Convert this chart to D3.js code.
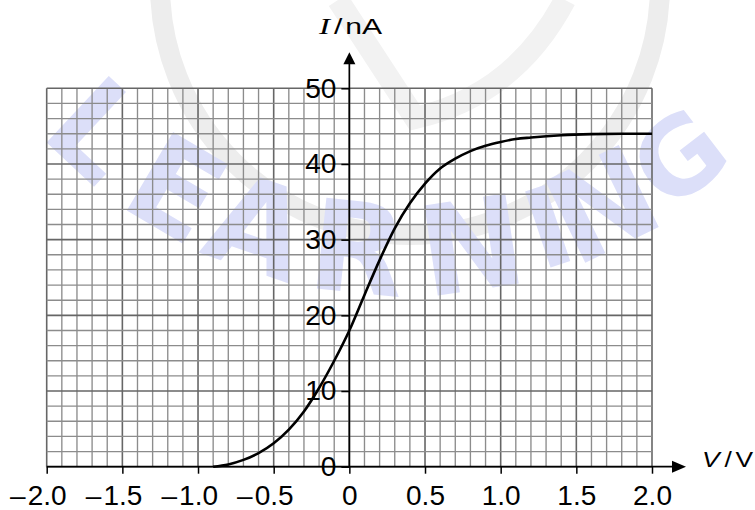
<!DOCTYPE html>
<html>
<head>
<meta charset="utf-8">
<script src="https://cdn.jsdelivr.net/npm/d3@7"></script>
<style>
  html, body { margin: 0; padding: 0; background: #fff; }
  svg { display: block; }
</style>
</head>
<body>
<svg id="chart" width="755" height="510"></svg>
<script>
// photocurrent I (nA) against applied voltage V (V)
const voltage = [-0.9, -0.8, -0.7, -0.6, -0.5, -0.4, -0.3, -0.2, -0.1, 0, 0.1, 0.2, 0.3, 0.4,
  0.5, 0.6, 0.7, 0.8, 0.9, 1.0, 1.1, 1.2, 1.4, 1.6, 1.8, 2.0];
const current = [0, 0.3, 0.9, 1.8, 3.1, 4.9, 7.3, 10.4, 14.0, 18.0, 22.7, 27.3, 31.5, 34.8,
  37.4, 39.4, 40.7, 41.7, 42.4, 42.9, 43.3, 43.5, 43.8, 43.95, 44.0, 44.0];

const xTicks = [-2.0, -1.5, -1.0, -0.5, 0, 0.5, 1.0, 1.5, 2.0];
const yTicks = [0, 10, 20, 30, 40, 50];
const xGrid = d3.range(-20, 21).map(i => i / 10);
const yGrid = d3.range(0, 51, 2);

// watermark letters and their angle (degrees) along the arc
const wmLetters = ["L", "E", "A", "R", "N", "I", "N", "G"];
const wmAngles = [-43, -30.5, -19, -6, 8.5, 18.5, 26, 37.5];

const sans = "Liberation Sans, Arial, Helvetica, sans-serif";
const svg = d3.select("#chart");

// scales
const x = d3.scaleLinear().domain([-2, 2]).range([46.7, 652]);
const y = d3.scaleLinear().domain([0, 50]).range([466.7, 88.3]);

// faint watermark behind the grid
const wm = svg.append("g").attr("class", "watermark");
wm.append("circle")
  .attr("cx", 410).attr("cy", -15).attr("r", 250)
  .attr("fill", "none").attr("stroke", "#ededed").attr("stroke-width", 20);
wm.append("path")
  .attr("d", "M338,0 L415,118 Q515,95 565,0")
  .attr("fill", "none").attr("stroke", "#f2f2f2").attr("stroke-width", 22);
const wmCx = 405, wmCy = -200, wmR = 450;
wm.selectAll(".wm-letter")
  .data(wmLetters)
  .enter()
  .append("text")
  .attr("class", "wm-letter")
  .attr("transform", (d, i) => {
    const a = wmAngles[i] * Math.PI / 180;
    const px = wmCx + wmR * Math.sin(a);
    const py = wmCy + wmR * Math.cos(a);
    return "translate(" + px + "," + py + ") rotate(" + (-wmAngles[i]) + ")";
  })
  .attr("text-anchor", "middle")
  .attr("dy", "0.36em")
  .attr("font-family", "DejaVu Sans, Liberation Sans, sans-serif")
  .attr("font-weight", "bold")
  .attr("font-size", d => d === "I" ? 110 : (d === "G" ? 105 : 125))
  .attr("fill", "#dcdff9")
  .text(d => d);

// grid
const isMajorV = d => Math.abs(d * 2 - Math.round(d * 2)) < 1e-6;
const grid = svg.append("g").attr("class", "grid");
grid.selectAll(".vline")
  .data(xGrid)
  .enter()
  .append("line")
  .attr("class", "vline")
  .attr("x1", d => x(d)).attr("x2", d => x(d))
  .attr("y1", y(0)).attr("y2", y(50))
  .attr("stroke", d => isMajorV(d) ? "#666" : "#8c8c8c")
  .attr("stroke-width", d => isMajorV(d) ? 1.6 : 1.35);
grid.selectAll(".hline")
  .data(yGrid)
  .enter()
  .append("line")
  .attr("class", "hline")
  .attr("x1", x(-2)).attr("x2", x(2))
  .attr("y1", d => y(d)).attr("y2", d => y(d))
  .attr("stroke", d => d % 10 === 0 ? "#666" : "#8c8c8c")
  .attr("stroke-width", d => d % 10 === 0 ? 1.6 : 1.35);

// curve
const points = voltage.map((v, i) => [v, current[i]]);
const line = d3.line()
  .x(d => x(d[0]))
  .y(d => y(d[1]))
  .curve(d3.curveMonotoneX);
svg.append("path")
  .datum(points)
  .attr("d", line)
  .attr("fill", "none")
  .attr("stroke", "#000")
  .attr("stroke-width", 2.6);

// axis lines with arrows
const axes = svg.append("g").attr("class", "axes");
axes.append("line")
  .attr("x1", x(-2)).attr("x2", x(2) + 22)
  .attr("y1", y(0)).attr("y2", y(0))
  .attr("stroke", "#000").attr("stroke-width", 1.7);
axes.append("path")
  .attr("d", `M${x(2) + 34},${y(0)} L${x(2) + 20},${y(0) - 6} L${x(2) + 20},${y(0) + 6} Z`)
  .attr("fill", "#000");
axes.append("line")
  .attr("x1", x(0)).attr("x2", x(0))
  .attr("y1", y(0)).attr("y2", y(50) - 26)
  .attr("stroke", "#000").attr("stroke-width", 1.7);
axes.append("path")
  .attr("d", `M${x(0)},${y(50) - 36} L${x(0) - 6},${y(50) - 24} L${x(0) + 6},${y(50) - 24} Z`)
  .attr("fill", "#000");

// tick marks and labels (number centred on the tick, dash hangs to the left)
const fmt = d => d === 0 ? "0" : Math.abs(d).toFixed(1);
const xAxis = svg.append("g")
  .attr("transform", `translate(0,${y(0)})`)
  .call(d3.axisBottom(x).tickValues(xTicks).tickSize(7).tickPadding(11).tickFormat(fmt));
const yAxis = svg.append("g")
  .attr("transform", `translate(${x(0)},0)`)
  .call(d3.axisLeft(y).tickValues(yTicks).tickSize(8).tickPadding(5).tickFormat(d => d));
xAxis.selectAll(".tick")
  .filter(d => d < 0)
  .append("text")
  .attr("x", -21.5)
  .attr("y", 18)
  .attr("dy", "0.71em")
  .attr("text-anchor", "end")
  .text("\u2013");
[xAxis, yAxis].forEach(a => {
  a.select(".domain").remove();
  a.selectAll("line").attr("stroke", "#000").attr("stroke-width", 1.5);
  a.selectAll("text")
    .attr("font-family", sans)
    .attr("font-size", 28)
    .attr("fill", "#000");
});

// axis titles
const yTitle = svg.append("text")
  .attr("x", 319).attr("y", 34)
  .attr("font-family", sans)
  .attr("font-size", 22)
  .attr("fill", "#000")
  .attr("textLength", 63)
  .attr("lengthAdjust", "spacingAndGlyphs");
yTitle.append("tspan")
  .attr("font-family", "Liberation Serif, Times New Roman, serif")
  .attr("font-style", "italic")
  .attr("font-size", 24)
  .text("I");
yTitle.append("tspan").attr("dx", 3).text("/");
yTitle.append("tspan").attr("dx", 2).text("nA");

const xTitle = svg.append("text")
  .attr("x", 702).attr("y", 467)
  .attr("font-family", sans)
  .attr("font-size", 22)
  .attr("fill", "#000")
  .attr("textLength", 51)
  .attr("lengthAdjust", "spacingAndGlyphs");
xTitle.append("tspan").attr("font-style", "italic").text("V");
xTitle.append("tspan").attr("dx", 4).text("/");
xTitle.append("tspan").attr("dx", 3).text("V");
</script>
</body>
</html>
